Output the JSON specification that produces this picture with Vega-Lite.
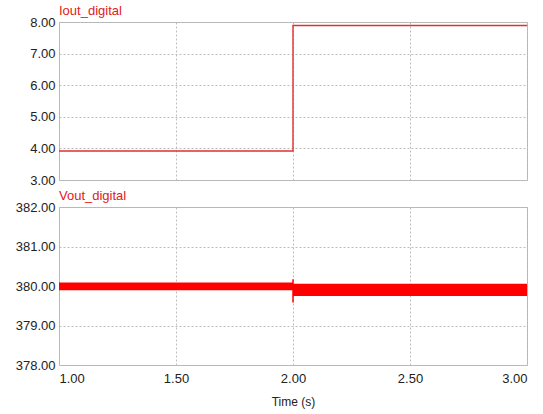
{
  "$schema": "https://vega.github.io/schema/vega-lite/v6.json",
  "padding": {"left": 12, "top": 4, "right": 16, "bottom": 4},
  "background": "white",
  "config": {
    "font": "Liberation Sans",
    "view": {"stroke": "#b4b4b4", "strokeWidth": 1},
    "axis": {
      "labelFont": "Liberation Sans", "labelFontSize": 13, "labelColor": "#222",
      "grid": true, "gridColor": "#bdbdbd", "gridDash": [2, 2],
      "domain": false, "ticks": false, "labelOverlap": false,
      "titleFont": "Liberation Sans", "titleFontWeight": "normal", "titleFontSize": 12, "titleColor": "#222"
    },
    "axisY": {"minExtent": 46, "maxExtent": 46, "labelPadding": 4},
    "title": {"anchor": "start", "frame": "group", "color": "#e02020", "fontSize": 13, "fontWeight": "normal", "font": "Liberation Sans", "offset": -2},
    "concat": {"spacing": 1}
  },
  "vconcat": [
    {
      "title": "Iout_digital",
      "width": 468,
      "height": 158,
      "data": {"values": [
        {"k": 0, "t": 1.0, "i": 3.92},
        {"k": 1, "t": 2.0, "i": 3.92},
        {"k": 2, "t": 2.0, "i": 7.89},
        {"k": 3, "t": 3.0, "i": 7.89}
      ]},
      "mark": {"type": "line", "color": "#e03030", "strokeWidth": 1.4},
      "encoding": {
        "x": {"field": "t", "type": "quantitative", "scale": {"domain": [1, 3]}, "axis": {"values": [1, 1.5, 2, 2.5, 3], "labels": false, "title": null}},
        "y": {"field": "i", "type": "quantitative", "scale": {"domain": [3, 8]}, "axis": {"values": [3, 4, 5, 6, 7, 8], "format": ".2f", "title": null, "labelOverlap": false}},
        "order": {"field": "k", "type": "quantitative"}
      }
    },
    {
      "title": "Vout_digital",
      "width": 468,
      "height": 158,
      "encoding": {
        "x": {"field": "t0", "type": "quantitative", "scale": {"domain": [1, 3]}, "axis": {"values": [1, 1.5, 2, 2.5, 3], "format": ".2f", "title": "Time (s)", "labelPadding": 7, "titlePadding": 11}},
        "y": {"field": "lo", "type": "quantitative", "scale": {"domain": [378, 382]}, "axis": {"values": [378, 379, 380, 381, 382], "format": ".2f", "title": null, "labelOverlap": false}},
        "y2": {"field": "hi"}
      },
      "layer": [
        {
          "data": {"values": [
            {"t0": 1.0, "t1": 2.0, "lo": 379.89, "hi": 380.09},
            {"t0": 2.0, "t1": 3.0, "lo": 379.75, "hi": 380.06}
          ]},
          "mark": {"type": "rect", "color": "#ff0000"},
          "encoding": {
            "x2": {"field": "t1"}
          }
        },
        {
          "data": {"values": [{"t0": 2.0, "lo": 379.58, "hi": 380.17}]},
          "mark": {"type": "rule", "color": "#ff0000", "strokeWidth": 1.5},
          "encoding": {}
        }
      ]
    }
  ]
}
